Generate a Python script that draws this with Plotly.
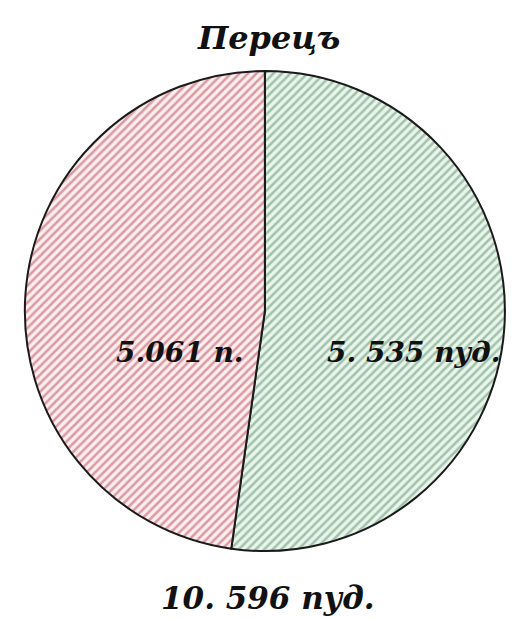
import plotly.graph_objects as go

title_text = "Перецъ"
slice_names = ["зеленый", "красный"]
slice_values = [5535, 5061]
slice_labels = ["5. 535 пуд.", "5.061 п."]
total_label = "10. 596 пуд."

fg_colors = ["#5a8e6b", "#bb4357"]
bg_colors = ["#eaf6ec", "#fcefef"]

fig = go.Figure(go.Pie(
    labels=slice_names,
    values=slice_values,
    sort=False,
    direction="clockwise",
    rotation=0,
    textinfo="none",
    hoverinfo="label+value",
    marker=dict(
        colors=bg_colors,
        line=dict(color="#1a1a1a", width=2),
        pattern=dict(shape=["/", "/"], fgcolor=fg_colors, bgcolor=bg_colors,
                     size=6, solidity=0.42, fillmode="overlay"),
    ),
    domain=dict(x=[0.025, 0.963], y=[0.1213, 0.8981]),
    showlegend=False,
))

font_main = dict(family="DejaVu Serif", color="#111111", size=28, style="italic", weight="bold")

fig.add_annotation(x=0.5, y=0.951, xref="paper", yref="paper", text=title_text,
                   xanchor="center", yanchor="middle",
                   showarrow=False, font=dict(font_main, size=32))
fig.add_annotation(x=0.33, y=0.443, xref="paper", yref="paper", text=slice_labels[1],
                   xanchor="center", yanchor="middle", showarrow=False, font=font_main)
fig.add_annotation(x=0.78, y=0.443, xref="paper", yref="paper", text=slice_labels[0],
                   xanchor="center", yanchor="middle", showarrow=False, font=font_main)
fig.add_annotation(x=0.5, y=0.045, xref="paper", yref="paper", text=total_label,
                   xanchor="center", yanchor="middle", showarrow=False,
                   font=dict(font_main, size=31))

fig.update_layout(width=520, height=618, margin=dict(l=0, r=0, t=0, b=0),
                  paper_bgcolor="white", plot_bgcolor="white")
fig.write_html("out.html")
